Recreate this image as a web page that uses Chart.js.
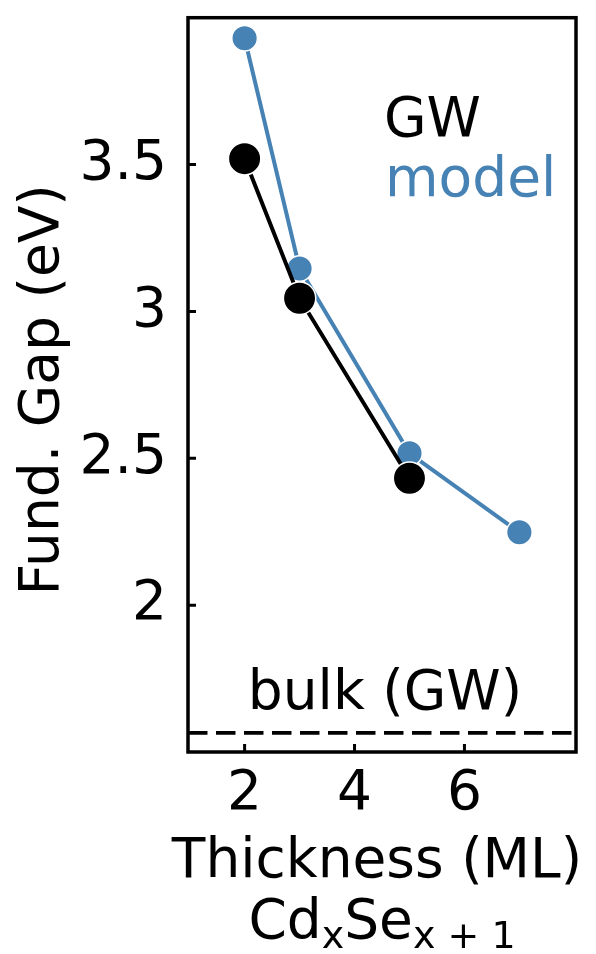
<!DOCTYPE html>
<html lang="en">
<head>
    <meta charset="UTF-8">
    <title>Fundamental Gap vs Thickness</title>
    <script src="https://cdn.jsdelivr.net/npm/chart.js"></script>
    <style>
        body { margin: 0; background: #fff; }
        #wrap { width: 596px; height: 954px; }
    </style>
</head>
<body>
    <div id="wrap"><canvas id="gapChart" width="596" height="954"></canvas></div>
    <script>
        // thickness in monolayers and fundamental gaps (eV)
        const gwThickness = [2, 3, 5];
        const gwGap = [3.52, 3.045, 2.432];
        const modelThickness = [2, 3, 5, 7];
        const modelGap = [3.93, 3.146, 2.517, 2.248];
        const bulkGap = 1.565;

        const xTicks = [2, 4, 6];
        const yTicks = [2, 2.5, 3, 3.5];
        const xRange = [0.97, 8.03];
        const yRange = [1.5, 4.0];

        const BLUE = '#4682b4';
        const FONT = 'DejaVu Sans, sans-serif';

        function pts(xs, ys) {
            return xs.map((x, i) => ({ x: x, y: ys[i] }));
        }

        // frame, inward ticks, axis titles and text labels
        const decorations = {
            id: 'decorations',
            afterDraw(chart) {
                const ctx = chart.ctx;
                const a = chart.chartArea;
                const xs = chart.scales.x, ys = chart.scales.y;
                ctx.save();
                ctx.strokeStyle = '#000';
                ctx.lineWidth = 3.5;
                ctx.strokeRect(a.left, a.top, a.right - a.left, a.bottom - a.top);

                ctx.lineWidth = 3;
                ctx.beginPath();
                xTicks.forEach(v => {
                    const px = xs.getPixelForValue(v);
                    ctx.moveTo(px, a.bottom);
                    ctx.lineTo(px, a.bottom - 8);
                });
                yTicks.forEach(v => {
                    const py = ys.getPixelForValue(v);
                    ctx.moveTo(a.left, py);
                    ctx.lineTo(a.left + 8, py);
                });
                ctx.stroke();

                ctx.fillStyle = '#000';
                ctx.font = '55px ' + FONT;
                ctx.textBaseline = 'alphabetic';

                // legend-like labels
                ctx.textAlign = 'left';
                ctx.fillText('GW', a.left + 196, a.top + 118);
                ctx.fillStyle = BLUE;
                ctx.fillText('model', a.left + 197, a.top + 178);

                ctx.fillStyle = '#000';
                ctx.textAlign = 'center';
                const midX = (a.left + a.right) / 2;
                ctx.fillText('bulk (GW)', midX + 3, ys.getPixelForValue(bulkGap) - 24);

                // x title, two lines
                ctx.fillText('Thickness (ML)', midX - 5, 877);

                const big = '55px ' + FONT, small = '38px ' + FONT;
                const parts = [['Cd', big, 0], ['x', small, 10], ['Se', big, 0], ['x + 1', small, 10]];
                let total = 0;
                parts.forEach(p => { ctx.font = p[1]; total += ctx.measureText(p[0]).width; });
                let cx = midX - total / 2;
                ctx.textAlign = 'left';
                parts.forEach(p => {
                    ctx.font = p[1];
                    ctx.fillText(p[0], cx, 938 + p[2]);
                    cx += ctx.measureText(p[0]).width;
                });

                // y title
                ctx.font = big;
                ctx.textAlign = 'center';
                ctx.translate(58, (a.top + a.bottom) / 2 + 5);
                ctx.rotate(-Math.PI / 2);
                ctx.fillText('Fund. Gap (eV)', 0, 0);
                ctx.restore();
            }
        };

        new Chart(document.getElementById('gapChart'), {
            type: 'scatter',
            data: {
                datasets: [{
                    label: 'GW',
                    data: pts(gwThickness, gwGap),
                    showLine: true,
                    borderColor: '#000',
                    backgroundColor: '#000',
                    borderWidth: 4,
                    pointRadius: 16.2,
                    pointBorderColor: '#fff',
                    pointBorderWidth: 1.5,
                    order: 0
                }, {
                    label: 'model',
                    data: pts(modelThickness, modelGap),
                    showLine: true,
                    borderColor: BLUE,
                    backgroundColor: BLUE,
                    borderWidth: 4,
                    pointRadius: 12.8,
                    pointBorderColor: '#fff',
                    pointBorderWidth: 1.5,
                    order: 1
                }, {
                    label: 'bulk',
                    data: pts(xRange, [bulkGap, bulkGap]),
                    showLine: true,
                    borderColor: '#000',
                    borderWidth: 3.6,
                    borderDash: [19.5, 8.5],
                    pointRadius: 0,
                    order: 2
                }]
            },
            options: {
                responsive: false,
                animation: false,
                layout: { padding: { top: 15, right: 20, left: 0, bottom: 0 } },
                plugins: {
                    legend: { display: false },
                    tooltip: { enabled: false }
                },
                scales: {
                    x: {
                        type: 'linear',
                        min: xRange[0],
                        max: xRange[1],
                        afterBuildTicks: s => { s.ticks = xTicks.map(v => ({ value: v })); },
                        afterFit: s => { s.height = 202; s.paddingLeft = 0; s.paddingRight = 0; },
                        grid: { display: false, drawTicks: false },
                        border: { display: false },
                        ticks: { color: '#000', padding: 10, maxRotation: 0, font: { family: FONT, size: 55 } }
                    },
                    y: {
                        min: yRange[0],
                        max: yRange[1],
                        afterBuildTicks: s => { s.ticks = yTicks.map(v => ({ value: v })); },
                        afterFit: s => { s.width = 188; s.paddingTop = 0; s.paddingBottom = 0; },
                        grid: { display: false, drawTicks: false },
                        border: { display: false },
                        ticks: { color: '#000', padding: 21, callback: v => String(v), font: { family: FONT, size: 55 } }
                    }
                }
            },
            plugins: [decorations]
        });
    </script>
</body>
</html>
